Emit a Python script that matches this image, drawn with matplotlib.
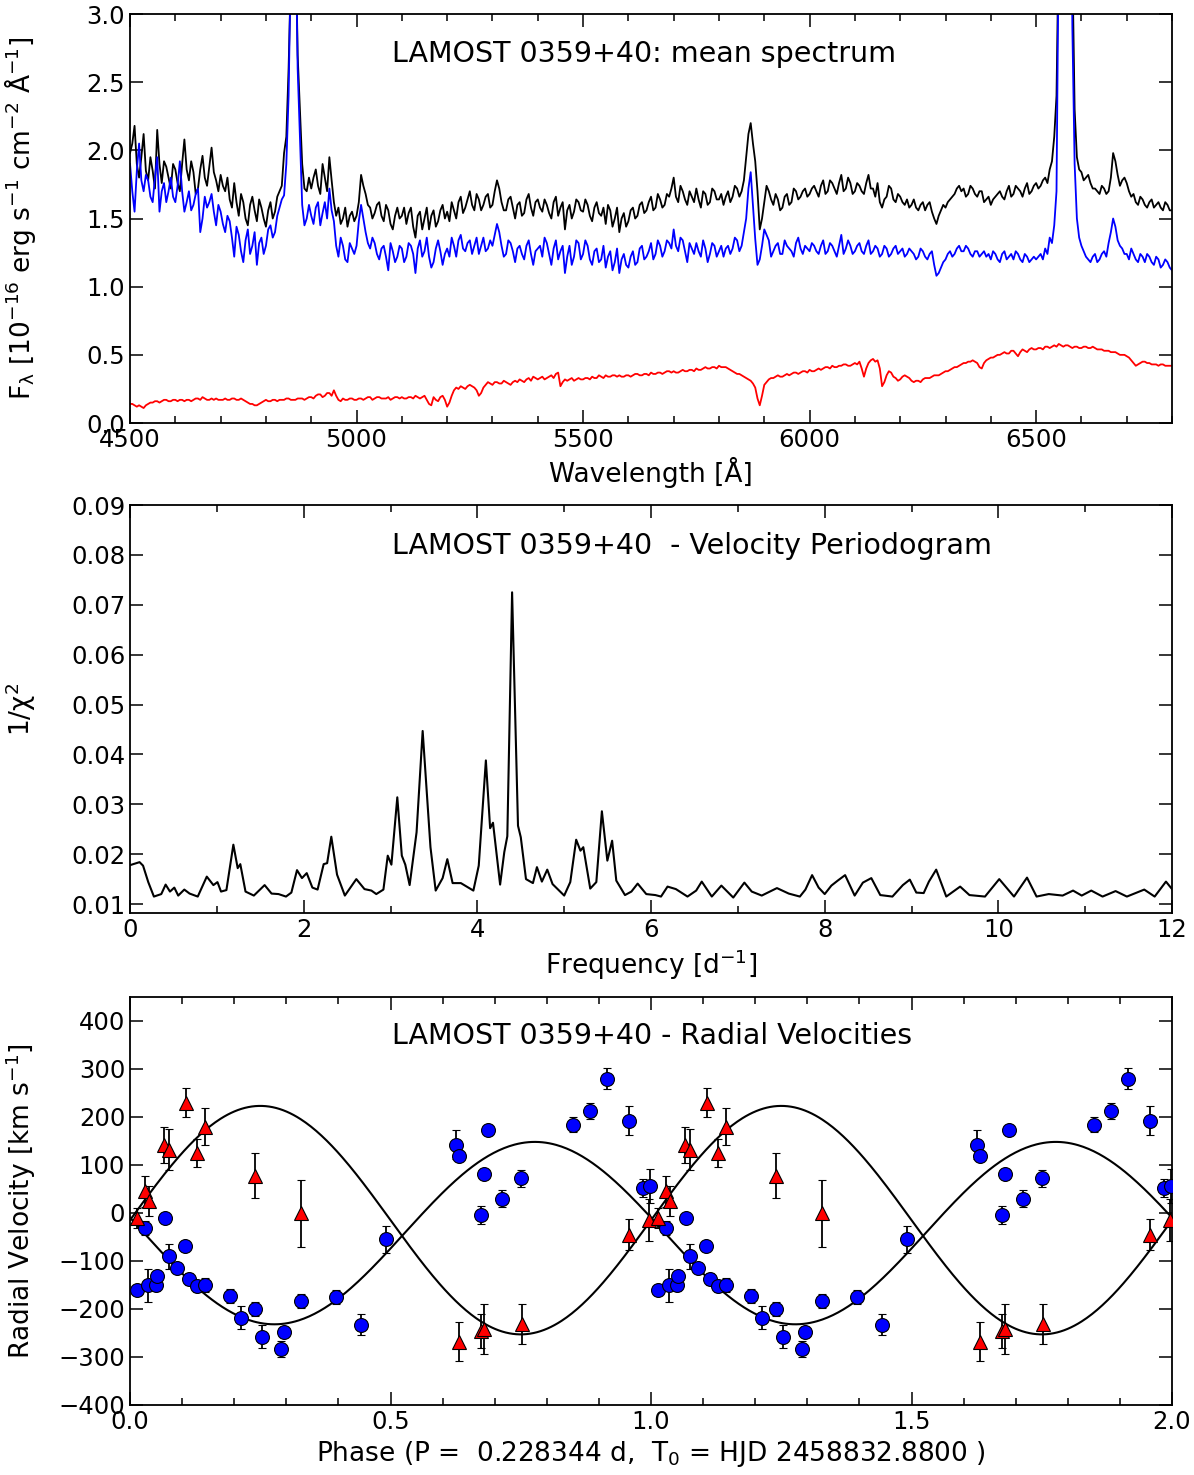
import matplotlib
matplotlib.use("Agg")
import matplotlib.pyplot as plt
import numpy as np
from matplotlib.ticker import MultipleLocator

plt.rcParams['mathtext.default'] = 'regular'
plt.rcParams['font.size'] = 19
plt.rcParams['xtick.labelsize'] = 17.5
plt.rcParams['ytick.labelsize'] = 17.5
plt.rcParams['axes.linewidth'] = 1.3

# ---- mean spectrum: values at 4500, 4510, ... 6800 and at 4505, 4515, ... 6795 ----
flux_black = [
    1.98, 2.18, 1.80, 2.12, 1.78, 1.85, 2.15, 1.76, 1.88, 1.72,
    1.86, 1.70, 2.08, 1.78, 1.84, 1.72, 1.96, 1.74, 2.02, 1.78,
    1.82, 1.70, 1.64, 1.76, 1.52, 1.62, 1.45, 1.66, 1.48, 1.58,
    1.44, 1.62, 1.55, 1.70, 1.98, 2.60, 3.80, 2.70, 1.90, 1.70,
    1.72, 1.86, 1.68, 1.80, 1.95, 1.62, 1.58, 1.50, 1.44, 1.55,
    1.52, 1.82, 1.68, 1.58, 1.54, 1.62, 1.48, 1.56, 1.42, 1.58,
    1.52, 1.46, 1.58, 1.36, 1.55, 1.50, 1.42, 1.56, 1.48, 1.60,
    1.55, 1.62, 1.50, 1.66, 1.58, 1.70, 1.56, 1.64, 1.60, 1.68,
    1.60, 1.78, 1.62, 1.56, 1.66, 1.50, 1.62, 1.54, 1.68, 1.52,
    1.64, 1.55, 1.60, 1.50, 1.66, 1.58, 1.42, 1.60, 1.55, 1.62,
    1.55, 1.60, 1.48, 1.62, 1.52, 1.46, 1.56, 1.50, 1.40, 1.54,
    1.48, 1.58, 1.52, 1.62, 1.56, 1.66, 1.58, 1.64, 1.60, 1.66,
    1.80, 1.62, 1.70, 1.60, 1.66, 1.72, 1.58, 1.68, 1.62, 1.70,
    1.64, 1.60, 1.70, 1.66, 1.72, 1.70, 1.95, 2.20, 1.92, 1.42,
    1.62, 1.70, 1.60, 1.64, 1.58, 1.68, 1.62, 1.70, 1.66, 1.72,
    1.68, 1.74, 1.66, 1.78, 1.70, 1.76, 1.68, 1.82, 1.72, 1.76,
    1.70, 1.74, 1.68, 1.82, 1.72, 1.76, 1.58, 1.66, 1.72, 1.62,
    1.66, 1.60, 1.58, 1.64, 1.56, 1.62, 1.60, 1.55, 1.46, 1.56,
    1.58, 1.64, 1.68, 1.74, 1.72, 1.68, 1.72, 1.66, 1.70, 1.64,
    1.60, 1.66, 1.70, 1.64, 1.74, 1.68, 1.72, 1.66, 1.76, 1.70,
    1.76, 1.74, 1.80, 1.86, 2.10, 3.60, 6.00, 5.50, 3.40, 1.95,
    1.84, 1.80, 1.76, 1.72, 1.68, 1.72, 1.70, 1.98, 1.82, 1.78,
    1.76, 1.66, 1.62, 1.66, 1.60, 1.62, 1.58, 1.62, 1.56, 1.60,
    1.56]
flux_black_half = [
    2.05, 1.90, 1.95, 1.85, 1.95, 1.72, 1.90, 1.92, 1.80, 1.90,
    1.76, 1.90, 1.86, 1.92, 1.68, 1.86, 1.80, 1.88, 1.84, 1.70,
    1.74, 1.80, 1.58, 1.62, 1.68, 1.50, 1.60, 1.56, 1.64, 1.50,
    1.56, 1.50, 1.66, 1.74, 2.10, 3.30, 3.70, 2.30, 1.72, 1.80,
    1.80, 1.74, 1.90, 1.70, 1.78, 1.52, 1.46, 1.58, 1.52, 1.48,
    1.62, 1.74, 1.60, 1.50, 1.60, 1.52, 1.60, 1.46, 1.52, 1.50,
    1.58, 1.54, 1.44, 1.52, 1.42, 1.58, 1.52, 1.44, 1.56, 1.50,
    1.48, 1.56, 1.62, 1.54, 1.64, 1.60, 1.68, 1.56, 1.66, 1.58,
    1.70, 1.72, 1.56, 1.64, 1.58, 1.60, 1.52, 1.64, 1.58, 1.62,
    1.58, 1.64, 1.54, 1.62, 1.52, 1.62, 1.56, 1.50, 1.64, 1.56,
    1.64, 1.52, 1.58, 1.54, 1.58, 1.60, 1.44, 1.58, 1.50, 1.44,
    1.56, 1.50, 1.60, 1.54, 1.62, 1.56, 1.68, 1.58, 1.68, 1.72,
    1.66, 1.74, 1.64, 1.70, 1.62, 1.64, 1.70, 1.60, 1.72, 1.64,
    1.68, 1.66, 1.62, 1.74, 1.66, 1.78, 2.12, 2.05, 1.70, 1.50,
    1.74, 1.64, 1.68, 1.56, 1.66, 1.60, 1.72, 1.64, 1.70, 1.66,
    1.72, 1.70, 1.74, 1.68, 1.78, 1.72, 1.76, 1.70, 1.80, 1.68,
    1.76, 1.70, 1.76, 1.72, 1.66, 1.62, 1.64, 1.74, 1.64, 1.68,
    1.62, 1.64, 1.60, 1.58, 1.60, 1.56, 1.62, 1.50, 1.52, 1.60,
    1.62, 1.66, 1.72, 1.70, 1.66, 1.74, 1.68, 1.70, 1.62, 1.66,
    1.64, 1.68, 1.66, 1.70, 1.66, 1.74, 1.70, 1.72, 1.68, 1.74,
    1.72, 1.78, 1.76, 1.92, 2.40, 5.00, 6.20, 4.60, 2.30, 1.86,
    1.78, 1.82, 1.72, 1.70, 1.74, 1.68, 1.80, 1.92, 1.74, 1.80,
    1.70, 1.68, 1.60, 1.64, 1.58, 1.64, 1.60, 1.58, 1.62, 1.56]

flux_blue = [
    1.90, 1.55, 2.05, 1.70, 1.78, 1.62, 1.95, 1.70, 1.62, 1.80,
    1.62, 1.92, 1.55, 1.70, 1.60, 1.72, 1.50, 1.58, 1.68, 1.45,
    1.55, 1.40, 1.48, 1.22, 1.38, 1.18, 1.42, 1.30, 1.16, 1.36,
    1.30, 1.45, 1.40, 1.58, 1.67, 2.40, 3.70, 2.60, 1.60, 1.50,
    1.52, 1.58, 1.45, 1.62, 1.72, 1.48, 1.22, 1.30, 1.18, 1.28,
    1.30, 1.60, 1.40, 1.28, 1.32, 1.20, 1.30, 1.12, 1.26, 1.22,
    1.28, 1.22, 1.30, 1.10, 1.34, 1.26, 1.22, 1.18, 1.34, 1.16,
    1.28, 1.36, 1.22, 1.38, 1.26, 1.34, 1.30, 1.24, 1.36, 1.28,
    1.30, 1.46, 1.30, 1.24, 1.32, 1.18, 1.30, 1.20, 1.34, 1.16,
    1.28, 1.22, 1.32, 1.16, 1.34, 1.26, 1.10, 1.30, 1.22, 1.32,
    1.24, 1.30, 1.16, 1.28, 1.20, 1.14, 1.26, 1.18, 1.10, 1.24,
    1.14, 1.26, 1.18, 1.30, 1.22, 1.32, 1.24, 1.30, 1.26, 1.32,
    1.42, 1.26, 1.34, 1.18, 1.28, 1.32, 1.22, 1.28, 1.24, 1.30,
    1.26, 1.22, 1.30, 1.28, 1.34, 1.30, 1.50, 1.84, 1.35, 1.20,
    1.42, 1.34, 1.26, 1.32, 1.24, 1.30, 1.26, 1.32, 1.28, 1.30,
    1.26, 1.30, 1.24, 1.34, 1.26, 1.30, 1.22, 1.38, 1.28, 1.30,
    1.26, 1.32, 1.24, 1.34, 1.26, 1.28, 1.24, 1.28, 1.24, 1.30,
    1.26, 1.22, 1.28, 1.24, 1.22, 1.26, 1.20, 1.26, 1.08, 1.14,
    1.20, 1.26, 1.24, 1.30, 1.26, 1.28, 1.22, 1.26, 1.24, 1.22,
    1.20, 1.24, 1.18, 1.26, 1.22, 1.20, 1.24, 1.18, 1.22, 1.20,
    1.20, 1.24, 1.28, 1.36, 1.45, 3.60, 6.50, 6.00, 2.90, 1.50,
    1.30, 1.22, 1.18, 1.24, 1.20, 1.26, 1.32, 1.50, 1.34, 1.28,
    1.24, 1.28, 1.20, 1.24, 1.18, 1.22, 1.16, 1.20, 1.16, 1.18,
    1.12]
flux_blue_half = [
    1.70, 1.85, 1.78, 1.82, 1.66, 1.80, 1.55, 1.76, 1.70, 1.66,
    1.74, 1.70, 1.62, 1.56, 1.68, 1.40, 1.66, 1.62, 1.55, 1.60,
    1.46, 1.52, 1.36, 1.44, 1.26, 1.34, 1.24, 1.40, 1.32, 1.24,
    1.42, 1.36, 1.52, 1.64, 1.90, 3.40, 3.80, 2.10, 1.45, 1.60,
    1.46, 1.62, 1.54, 1.50, 1.56, 1.30, 1.36, 1.20, 1.32, 1.24,
    1.48, 1.50, 1.32, 1.36, 1.24, 1.28, 1.22, 1.32, 1.18, 1.30,
    1.18, 1.32, 1.24, 1.28, 1.22, 1.36, 1.14, 1.28, 1.26, 1.24,
    1.22, 1.30, 1.34, 1.28, 1.32, 1.24, 1.36, 1.30, 1.26, 1.34,
    1.38, 1.40, 1.22, 1.34, 1.26, 1.28, 1.24, 1.30, 1.24, 1.26,
    1.30, 1.36, 1.24, 1.28, 1.20, 1.30, 1.22, 1.16, 1.34, 1.20,
    1.34, 1.20, 1.26, 1.18, 1.30, 1.22, 1.12, 1.28, 1.20, 1.16,
    1.22, 1.16, 1.28, 1.20, 1.26, 1.20, 1.34, 1.22, 1.34, 1.28,
    1.30, 1.36, 1.26, 1.32, 1.24, 1.26, 1.34, 1.18, 1.32, 1.22,
    1.30, 1.28, 1.24, 1.36, 1.26, 1.40, 1.72, 1.60, 1.16, 1.30,
    1.38, 1.22, 1.30, 1.24, 1.34, 1.28, 1.22, 1.36, 1.24, 1.28,
    1.32, 1.26, 1.30, 1.24, 1.32, 1.26, 1.30, 1.24, 1.34, 1.24,
    1.30, 1.26, 1.30, 1.24, 1.30, 1.22, 1.30, 1.22, 1.28, 1.24,
    1.28, 1.24, 1.26, 1.20, 1.28, 1.22, 1.24, 1.16, 1.10, 1.18,
    1.24, 1.22, 1.28, 1.26, 1.30, 1.24, 1.26, 1.22, 1.26, 1.24,
    1.26, 1.20, 1.24, 1.20, 1.24, 1.26, 1.20, 1.24, 1.18, 1.22,
    1.22, 1.20, 1.24, 1.32, 1.70, 5.50, 6.80, 4.80, 1.90, 1.36,
    1.26, 1.20, 1.22, 1.18, 1.24, 1.22, 1.40, 1.44, 1.30, 1.24,
    1.20, 1.24, 1.18, 1.22, 1.24, 1.18, 1.22, 1.14, 1.20, 1.14]

flux_red = [
    0.14, 0.13, 0.13, 0.11, 0.14, 0.15, 0.16, 0.16, 0.17, 0.16,
    0.17, 0.17, 0.16, 0.17, 0.17, 0.18, 0.19, 0.17, 0.18, 0.18,
    0.17, 0.18, 0.17, 0.18, 0.17, 0.17, 0.15, 0.14, 0.13, 0.15,
    0.17, 0.16, 0.17, 0.17, 0.17, 0.18, 0.17, 0.18, 0.18, 0.18,
    0.19, 0.20, 0.21, 0.20, 0.22, 0.24, 0.17, 0.18, 0.17, 0.18,
    0.17, 0.18, 0.18, 0.19, 0.18, 0.19, 0.18, 0.19, 0.18, 0.19,
    0.19, 0.18, 0.19, 0.20, 0.18, 0.20, 0.14, 0.19, 0.16, 0.20,
    0.12, 0.20, 0.26, 0.27, 0.25, 0.28, 0.26, 0.20, 0.26, 0.30,
    0.28, 0.30, 0.29, 0.30, 0.28, 0.31, 0.32, 0.30, 0.33, 0.34,
    0.32, 0.34, 0.33, 0.35, 0.36, 0.27, 0.32, 0.32, 0.31, 0.33,
    0.32, 0.33, 0.34, 0.33, 0.34, 0.35, 0.34, 0.35, 0.35, 0.34,
    0.35, 0.35, 0.36, 0.35, 0.36, 0.37, 0.36, 0.37, 0.37, 0.38,
    0.38, 0.37, 0.39, 0.38, 0.39, 0.40, 0.39, 0.41, 0.40, 0.41,
    0.42, 0.41, 0.40, 0.38, 0.36, 0.35, 0.33, 0.31, 0.26, 0.13,
    0.28, 0.32, 0.33, 0.35, 0.34, 0.36, 0.36, 0.37, 0.37, 0.38,
    0.39, 0.38, 0.40, 0.40, 0.41, 0.42, 0.41, 0.42, 0.43, 0.42,
    0.44, 0.45, 0.34, 0.44, 0.47, 0.46, 0.27, 0.35, 0.37, 0.33,
    0.32, 0.35, 0.33, 0.30, 0.31, 0.32, 0.33, 0.34, 0.35, 0.36,
    0.38, 0.39, 0.41, 0.42, 0.44, 0.45, 0.46, 0.44, 0.40, 0.46,
    0.48, 0.49, 0.50, 0.52, 0.51, 0.53, 0.49, 0.54, 0.52, 0.55,
    0.54, 0.55, 0.56, 0.55, 0.57, 0.58, 0.56, 0.57, 0.55, 0.56,
    0.55, 0.56, 0.55, 0.55, 0.54, 0.53, 0.53, 0.52, 0.51, 0.50,
    0.49, 0.46, 0.42, 0.44, 0.45, 0.44, 0.43, 0.42, 0.43, 0.42,
    0.42]
flux_red_half = [
    0.14, 0.12, 0.12, 0.13, 0.15, 0.16, 0.15, 0.17, 0.16, 0.17,
    0.16, 0.17, 0.17, 0.16, 0.18, 0.17, 0.18, 0.17, 0.17, 0.17,
    0.17, 0.17, 0.18, 0.17, 0.18, 0.16, 0.14, 0.13, 0.14, 0.16,
    0.16, 0.17, 0.16, 0.17, 0.18, 0.17, 0.17, 0.18, 0.17, 0.19,
    0.18, 0.21, 0.19, 0.22, 0.20, 0.20, 0.16, 0.17, 0.18, 0.17,
    0.18, 0.17, 0.19, 0.17, 0.19, 0.18, 0.18, 0.17, 0.19, 0.18,
    0.18, 0.19, 0.18, 0.19, 0.19, 0.17, 0.13, 0.17, 0.19, 0.17,
    0.15, 0.24, 0.25, 0.26, 0.27, 0.27, 0.24, 0.22, 0.28, 0.29,
    0.30, 0.29, 0.31, 0.29, 0.30, 0.30, 0.31, 0.32, 0.31, 0.33,
    0.33, 0.32, 0.34, 0.33, 0.37, 0.30, 0.31, 0.33, 0.32, 0.32,
    0.33, 0.32, 0.33, 0.35, 0.33, 0.34, 0.35, 0.34, 0.34, 0.35,
    0.34, 0.36, 0.35, 0.36, 0.35, 0.36, 0.37, 0.36, 0.38, 0.37,
    0.37, 0.38, 0.38, 0.39, 0.38, 0.39, 0.40, 0.40, 0.41, 0.40,
    0.41, 0.41, 0.39, 0.37, 0.36, 0.34, 0.32, 0.29, 0.18, 0.20,
    0.30, 0.33, 0.34, 0.34, 0.35, 0.35, 0.37, 0.36, 0.38, 0.37,
    0.38, 0.39, 0.39, 0.41, 0.40, 0.41, 0.42, 0.43, 0.42, 0.43,
    0.43, 0.40, 0.40, 0.46, 0.45, 0.40, 0.30, 0.38, 0.34, 0.31,
    0.34, 0.34, 0.31, 0.31, 0.30, 0.33, 0.33, 0.35, 0.35, 0.37,
    0.38, 0.40, 0.41, 0.43, 0.44, 0.45, 0.45, 0.41, 0.44, 0.47,
    0.48, 0.50, 0.51, 0.51, 0.53, 0.51, 0.52, 0.53, 0.54, 0.54,
    0.55, 0.54, 0.56, 0.56, 0.56, 0.57, 0.57, 0.56, 0.56, 0.55,
    0.56, 0.55, 0.56, 0.54, 0.54, 0.53, 0.52, 0.52, 0.50, 0.50,
    0.48, 0.44, 0.43, 0.45, 0.44, 0.43, 0.43, 0.43, 0.42, 0.42]

# ---- velocity periodogram ----
freq = [0.00, 0.11, 0.15, 0.21, 0.275, 0.36, 0.41, 0.46, 0.51, 0.555,
        0.625, 0.686, 0.78, 0.884, 0.96, 1.007, 1.048, 1.11, 1.19, 1.24,
        1.27, 1.33, 1.426, 1.55, 1.63, 1.71, 1.796, 1.858, 1.923, 1.98,
        2.035, 2.10, 2.16, 2.23, 2.27, 2.318, 2.384, 2.474, 2.606, 2.70,
        2.78, 2.836, 2.918, 2.968, 3.01, 3.078, 3.13, 3.17, 3.22, 3.30,
        3.37, 3.46, 3.52, 3.60, 3.654, 3.715, 3.81, 3.954, 4.016, 4.098,
        4.147, 4.18, 4.262, 4.31, 4.345, 4.40, 4.468, 4.50, 4.56, 4.64,
        4.686, 4.743, 4.805, 4.866, 5.00, 5.07, 5.138, 5.187, 5.22, 5.30,
        5.37, 5.434, 5.497, 5.552, 5.60, 5.70, 5.774, 5.846, 5.945, 6.05,
        6.115, 6.19, 6.286, 6.42, 6.52, 6.584, 6.70, 6.81, 6.947, 7.075,
        7.16, 7.275, 7.45, 7.586, 7.714, 7.778, 7.855, 7.93, 8.00, 8.077,
        8.15, 8.235, 8.345, 8.44, 8.537, 8.64, 8.78, 8.90, 8.98, 9.055,
        9.14, 9.20, 9.284, 9.40, 9.56, 9.667, 9.846, 10.01, 10.18, 10.33,
        10.44, 10.58, 10.74, 10.86, 10.96, 11.07, 11.20, 11.35, 11.48, 11.68,
        11.80, 11.93, 12.00]
inv_chi2 = [0.0178, 0.0184, 0.0177, 0.0144, 0.0115, 0.0120, 0.0139, 0.0125, 0.0133, 0.0117,
            0.0129, 0.0121, 0.0115, 0.0155, 0.0138, 0.0144, 0.0125, 0.0128, 0.0219, 0.0172,
            0.0180, 0.0125, 0.0117, 0.0138, 0.0121, 0.0120, 0.0115, 0.0123, 0.0168, 0.0152,
            0.0162, 0.0133, 0.0129, 0.0180, 0.0182, 0.0235, 0.0159, 0.0117, 0.0150, 0.0130,
            0.0127, 0.0120, 0.0129, 0.0197, 0.0179, 0.0314, 0.0197, 0.0179, 0.0138, 0.0244,
            0.0447, 0.0214, 0.0127, 0.0152, 0.0190, 0.0142, 0.0142, 0.0127, 0.0177, 0.0388,
            0.0252, 0.0263, 0.0139, 0.0204, 0.0236, 0.0725, 0.0257, 0.0234, 0.0150, 0.0142,
            0.0174, 0.0145, 0.0169, 0.0140, 0.0117, 0.0144, 0.0229, 0.0207, 0.0214, 0.0131,
            0.0144, 0.0286, 0.0187, 0.0227, 0.0147, 0.0118, 0.0125, 0.0141, 0.0120, 0.0118,
            0.0115, 0.0135, 0.0130, 0.0115, 0.0127, 0.0145, 0.0115, 0.0137, 0.0113, 0.0143,
            0.0125, 0.0117, 0.0132, 0.0121, 0.0115, 0.0129, 0.0158, 0.0133, 0.0120, 0.0137,
            0.0147, 0.0158, 0.0117, 0.0143, 0.0152, 0.0118, 0.0115, 0.0138, 0.0149, 0.0123,
            0.0122, 0.0145, 0.0169, 0.0115, 0.0135, 0.0118, 0.0115, 0.0150, 0.0115, 0.0153,
            0.0115, 0.0120, 0.0117, 0.0127, 0.0117, 0.0127, 0.0115, 0.0126, 0.0115, 0.0129,
            0.0115, 0.0145, 0.0130]

# ---- radial velocities ----
phase_em = [0.013, 0.029, 0.035, 0.049, 0.052, 0.067, 0.075, 0.091, 0.106, 0.113,
            0.128, 0.144, 0.191, 0.213, 0.239, 0.253, 0.290, 0.296, 0.328, 0.395,
            0.443, 0.491, 0.626, 0.631, 0.673, 0.680, 0.688, 0.713, 0.750, 0.851,
            0.883, 0.916, 0.958, 0.985, 0.998]
rv_em = [-161, -31, -151, -150, -132, -11, -90, -114, -69, -138,
         -152, -150, -173, -218, -200, -258, -284, -248, -183, -175,
         -233, -55, 142, 118, -5, 82, 172, 30, 72, 184,
         213, 280, 192, 52, 56]
err_em = [8, 15, 34, 12, 8, 8, 26, 8, 8, 12,
          13, 14, 14, 24, 15, 24, 17, 10, 14, 15,
          22, 28, 30, 8, 19, 10, 8, 17, 17, 15,
          17, 21, 30, 18, 35]

phase_abs = [0.013, 0.028, 0.037, 0.065, 0.075, 0.107, 0.129, 0.143, 0.239, 0.328,
             0.632, 0.673, 0.680, 0.752, 0.958, 0.997]
rv_abs = [-11, 45, 25, 142, 132, 230, 125, 180, 78, -1,
          -268, -246, -242, -232, -45, -15]
err_abs = [21, 32, 31, 38, 42, 31, 29, 38, 47, 69,
           41, 36, 52, 42, 33, 44]

# sinusoid fits: gamma, K, phase offset
gamma_abs, K_abs, phi_abs = -15.0, 238.0, 0.0
gamma_em, K_em, phi_em = -42.0, 190.0, 0.027

# merge the two wavelength grids
wave = np.arange(4500, 6801, 5)


def merge(main, half):
    out = np.empty(len(main) + len(half))
    out[0::2] = main
    out[1::2] = half
    return out


fig = plt.figure(figsize=(11.94, 14.75), dpi=100)


def style(ax):
    ax.tick_params(which='major', length=9.5, width=1.1, direction='in', top=True, right=True)
    ax.tick_params(which='minor', length=5, width=1.1, direction='in', top=True, right=True)
    ax.yaxis.set_label_coords(-0.088, 0.5)


title_kw = dict(ha='left', va='center', fontsize=20.5)

# top panel
ax1 = fig.add_axes([0.1089, 0.7132, 0.8727, 0.2773])
ax1.plot(wave, merge(flux_black, flux_black_half), color='black', lw=1.3)
ax1.plot(wave, merge(flux_blue, flux_blue_half), color='blue', lw=1.3)
ax1.plot(wave, merge(flux_red, flux_red_half), color='red', lw=1.3)
ax1.set_xlim(4500, 6800)
ax1.set_ylim(0, 3.0)
ax1.xaxis.set_major_locator(MultipleLocator(500))
ax1.xaxis.set_minor_locator(MultipleLocator(100))
ax1.yaxis.set_major_locator(MultipleLocator(0.5))
ax1.set_xlabel('Wavelength [Å]', labelpad=4)
ax1.set_ylabel(r'F$_{\lambda}$ [10$^{-16}$ erg s$^{-1}$ cm$^{-2}$ Å$^{-1}$]')
style(ax1)
ax1.text(0.2515, 0.902, 'LAMOST 0359+40: mean spectrum', transform=ax1.transAxes, **title_kw)

# middle panel
ax2 = fig.add_axes([0.1089, 0.3810, 0.8727, 0.2766])
ax2.plot(freq, inv_chi2, color='black', lw=1.5)
ax2.set_xlim(0, 12)
ax2.set_ylim(0.0082, 0.09)
ax2.xaxis.set_major_locator(MultipleLocator(2))
ax2.xaxis.set_minor_locator(MultipleLocator(1))
ax2.yaxis.set_major_locator(MultipleLocator(0.01))
ax2.set_xlabel(r'Frequency [d$^{-1}$]', labelpad=4)
ax2.set_ylabel(r'1/$\chi^2$')
style(ax2)
ax2.text(0.2515, 0.90, 'LAMOST 0359+40  - Velocity Periodogram', transform=ax2.transAxes, **title_kw)

# bottom panel
ax3 = fig.add_axes([0.1089, 0.0475, 0.8727, 0.2766])
ph = np.linspace(0, 2, 600)
ax3.plot(ph, gamma_abs + K_abs * np.sin(2 * np.pi * (ph - phi_abs)), color='black', lw=1.5)
ax3.plot(ph, gamma_em - K_em * np.sin(2 * np.pi * (ph - phi_em)), color='black', lw=1.5)
for shift in (0, 1):
    ax3.errorbar(np.array(phase_em) + shift, rv_em, yerr=err_em, fmt='o', color='black',
                 mfc='blue', mec='black', mew=0.8, ms=10, capsize=3, elinewidth=1.3,
                 capthick=1.3, zorder=3)
    ax3.errorbar(np.array(phase_abs) + shift, rv_abs, yerr=err_abs, fmt='^', color='black',
                 mfc='red', mec='black', mew=0.8, ms=10, capsize=3, elinewidth=1.3,
                 capthick=1.3, zorder=3)
ax3.set_xlim(0, 2)
ax3.set_ylim(-400, 450)
ax3.xaxis.set_major_locator(MultipleLocator(0.5))
ax3.xaxis.set_minor_locator(MultipleLocator(0.1))
ax3.yaxis.set_major_locator(MultipleLocator(100))
ax3.set_xlabel(r'Phase (P =  0.228344 d,  T$_0$ = HJD 2458832.8800 )', labelpad=4)
ax3.set_ylabel(r'Radial Velocity [km s$^{-1}$]')
style(ax3)
ax3.text(0.2515, 0.904, 'LAMOST 0359+40 - Radial Velocities', transform=ax3.transAxes, **title_kw)

fig.savefig('out.png', dpi=100)
